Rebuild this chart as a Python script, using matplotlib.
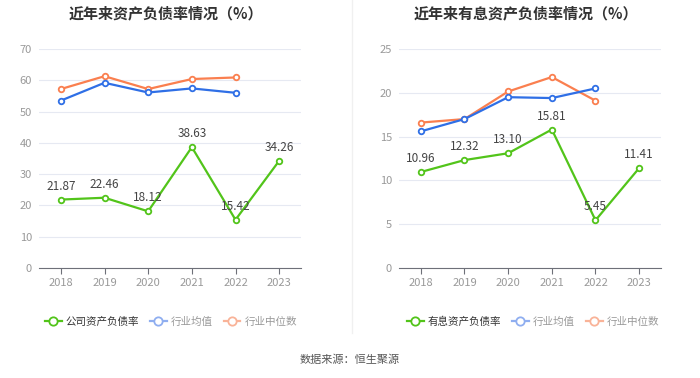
import matplotlib
matplotlib.use("Agg")
import matplotlib.pyplot as plt
from matplotlib.lines import Line2D

plt.rcParams['font.family'] = ['Noto Sans CJK SC', 'DejaVu Sans']

years = ['2018', '2019', '2020', '2021', '2022', '2023']

# 左图: 资产负债率
gongsi = [21.87, 22.46, 18.12, 38.63, 15.42, 34.26]
hy_junzhi_1 = [53.5, 59.2, 56.1, 57.4, 56.0]
hy_zhongwei_1 = [57.2, 61.3, 57.2, 60.4, 60.9]

# 右图: 有息资产负债率
youxi = [10.96, 12.32, 13.10, 15.81, 5.45, 11.41]
hy_junzhi_2 = [15.6, 17.0, 19.5, 19.4, 20.5]
hy_zhongwei_2 = [16.6, 17.0, 20.15, 21.8, 19.1]

GREEN = '#52c41a'
BLUE = '#2f6fe6'
ORANGE = '#fa7f4f'
GRID = '#e6e9f2'
AXIS = '#6e7079'
LABEL = '#999999'

fig = plt.figure(figsize=(7, 3.78), dpi=100)


def draw(rect, main, junzhi, zhongwei, ymax, step, title, main_name, tcx, lcx):
    ax = fig.add_axes(rect)
    x = list(range(len(years)))
    for vals, col in [(zhongwei, ORANGE), (junzhi, BLUE), (main, GREEN)]:
        ax.plot(x[:len(vals)], vals, color=col, lw=1.6, marker='o', ms=4,
                mfc='white', mec=col, mew=1.3, zorder=3)
    for xi, v in zip(x, main):
        ax.annotate(f'{v:.2f}', (xi, v), xytext=(0, 5), textcoords='offset points',
                    ha='center', va='bottom', fontsize=8.5, color='#444444', zorder=4)
    ax.set_xlim(-0.5, len(years) - 0.5)
    ax.set_ylim(0, ymax)
    ax.set_yticks(range(0, ymax + 1, step))
    ax.set_xticks(x)
    ax.set_xticklabels(years)
    ax.grid(axis='y', color=GRID, lw=0.8)
    ax.set_axisbelow(True)
    for s in ['top', 'right', 'left']:
        ax.spines[s].set_visible(False)
    ax.spines['bottom'].set_color(AXIS)
    ax.tick_params(axis='y', length=0, labelsize=8, labelcolor=LABEL, pad=5)
    ax.tick_params(axis='x', length=4, color=AXIS, labelsize=8, labelcolor=LABEL, pad=3)
    fig.text(tcx, 1 - 13 / 378, title, ha='center', va='center', fontsize=10.8,
             fontweight='bold', color='#333333')
    handles = [Line2D([], [], color=c, lw=1.6, marker='o', ms=6, mfc='white', mec=c, mew=1.3)
               for c in (GREEN, '#8faef0', '#f9b398')]
    leg = fig.legend(handles, [main_name, '行业均值', '行业中位数'], loc='center',
                     bbox_to_anchor=(lcx, 1 - 322 / 378), ncol=3, frameon=False,
                     fontsize=7.6, handlelength=1.6, handletextpad=0.4, columnspacing=1.0)
    for t, c in zip(leg.get_texts(), ['#333333', '#999999', '#999999']):
        t.set_color(c)
    return ax


draw([39 / 700, 1 - 268 / 378, 262 / 700, 219 / 378], gongsi, hy_junzhi_1, hy_zhongwei_1,
     70, 10, '近年来资产负债率情况（%）', '公司资产负债率', 166 / 700, 171 / 700)
draw([399 / 700, 1 - 268 / 378, 262 / 700, 219 / 378], youxi, hy_junzhi_2, hy_zhongwei_2,
     25, 5, '近年来有息资产负债率情况（%）', '有息资产负债率', 526 / 700, 533 / 700)

fig.add_artist(Line2D([352 / 700, 352 / 700], [1 - 333 / 378, 1], color='#f0f0f0', lw=1))
fig.text(0.5, 1 - 360 / 378, '数据来源：恒生聚源', ha='center', va='center',
         fontsize=8, color='#555555')

fig.savefig('out.png', dpi=100, facecolor='white')
